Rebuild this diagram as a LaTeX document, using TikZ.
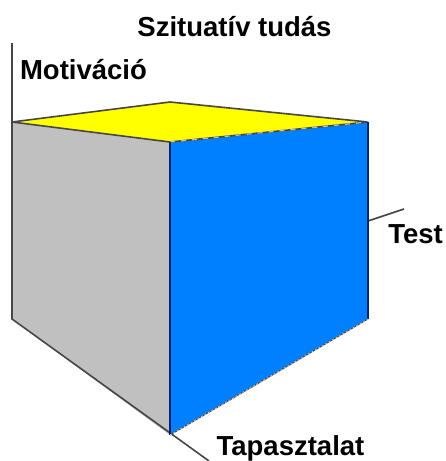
\documentclass[tikz,border=0pt]{standalone}
\usepackage{fontspec}
\setmainfont{Liberation Sans}
\definecolor{cubegray}{RGB}{192,192,192}
\definecolor{cubeblue}{RGB}{0,128,255}
\definecolor{cubeyellow}{RGB}{255,255,0}
\definecolor{edgegray}{RGB}{70,70,70}
\definecolor{edgeblue}{RGB}{10,35,110}
\tikzset{
  axisline/.style={draw=edgegray,line width=1.6pt},
  edgeline/.style={draw=edgeblue,line width=1.5pt},
  dashline/.style={draw=white!75!black,line width=1.2pt},
  lbl/.style={font=\fontsize{27.5}{31}\selectfont\bfseries,inner sep=0pt,text=black}
}
\begin{document}
\begin{tikzpicture}[x=1pt,y=-1pt]
\useasboundingbox (0,0) rectangle (445,461);
\coordinate (tl) at (12,122);
\coordinate (tb) at (170,102);
\coordinate (tr) at (368,122);
\coordinate (tf) at (170,142);
\coordinate (bl) at (12,319);
\coordinate (bf) at (170,435);
\coordinate (br) at (368,319);
\coordinate (zt) at (12,43);
\coordinate (xe) at (404,209);
\coordinate (xs) at (368,221);
\coordinate (ye) at (209,461);
\fill[cubegray] (tl) -- (tf) -- (bf) -- (bl) -- cycle;
\fill[cubeblue] (tf) -- (tr) -- (br) -- (bf) -- cycle;
\fill[cubeyellow] (tl) -- (tb) -- (tr) -- (tf) -- cycle;
\draw[axisline] (zt) -- (bl) -- (ye);
\draw[axisline] (tl) -- (tb) -- (tr);
\draw[axisline] (tl) -- (tf);
\draw[axisline] (tf) -- (tr);
\draw[dashline,dashed,dash pattern=on 5pt off 6pt] (tf) -- (tr);
\draw[axisline] (xs) -- (xe);
\draw[edgeline] (tf) -- (bf);
\draw[edgeline] (tr) -- (br);
\draw[draw=edgegray,line width=1pt] (bf) -- (br);
\draw[dashline,line width=.8pt,dashed,dash pattern=on 2pt off 2pt] (bf) -- (br);
\node[lbl,anchor=center] (title) at (234.5,27) {Szituatív tudás};
\node[lbl,anchor=center] (mot) at (83.5,70) {Motiváció};
\node[lbl,anchor=center] (test) at (415.5,234) {Test};
\node[lbl,anchor=center] (tap) at (290.5,448) {Tapasztalat};
\end{tikzpicture}
\end{document}
